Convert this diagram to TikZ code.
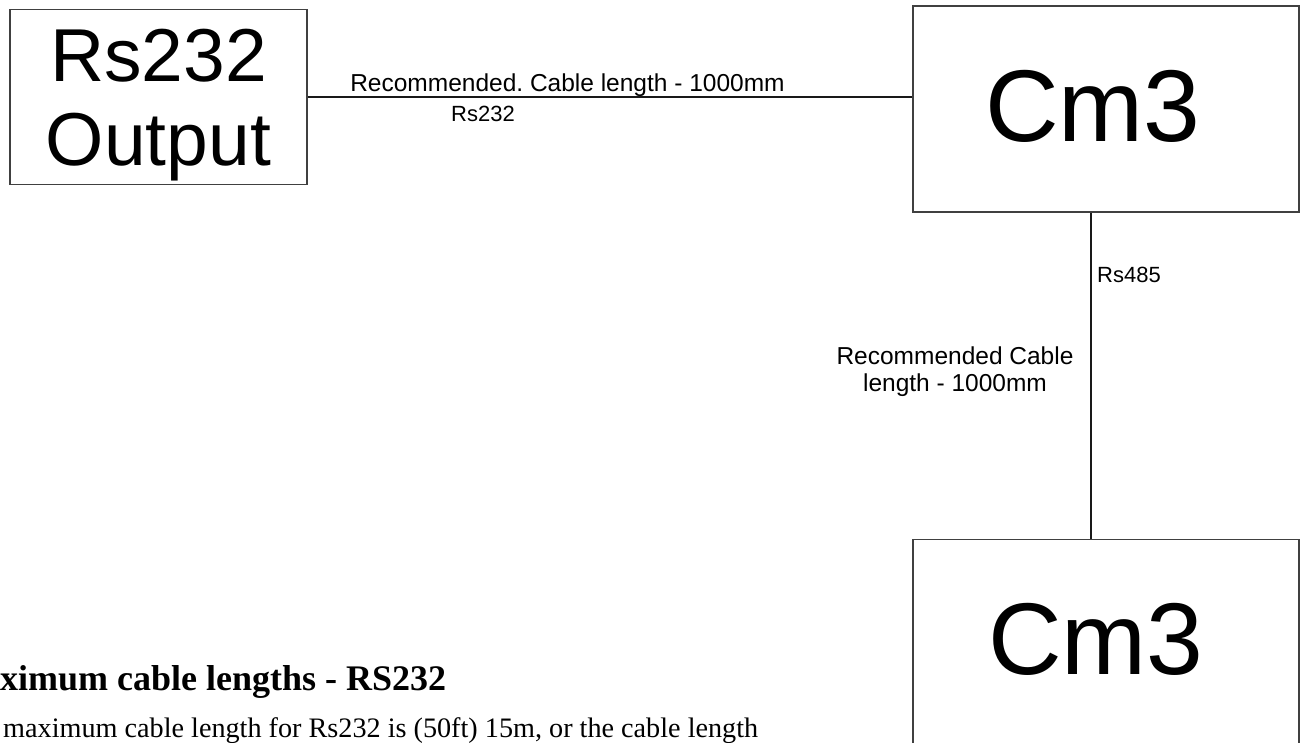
\documentclass[tikz,border=0pt]{standalone}
\usepackage{fontspec}
\setmainfont{Liberation Sans}
\newfontfamily\notefont{Liberation Serif}
\usetikzlibrary{positioning}
\frenchspacing

\begin{document}
\begin{tikzpicture}[
		x=1pt, y=-1pt,
		unitbox/.style={
			rectangle,
			draw=black!75,
			line width=1.2pt,
			inner sep=0pt,
			minimum width=386pt,
			minimum height=206pt
		},
		outbox/.style={
			rectangle,
			draw=black!75,
			line width=1.2pt,
			inner sep=0pt,
			minimum width=297pt,
			minimum height=175pt,
			align=center,
			text depth=0pt,
			font=\fontsize{75}{84}\selectfont
		},
		bigname/.style={
			inner sep=0pt,
			yshift=2.5pt,
			font=\fontsize{102}{110}\selectfont
		},
		cable/.style={
			draw=black!90,
			line width=1.2pt
		},
		wirelabel/.style={
			inner sep=0pt,
			align=center,
			font=\fontsize{24.5}{27}\selectfont
		},
		taglabel/.style={
			inner sep=0pt,
			font=\fontsize{22}{26}\selectfont
		},
		notehead/.style={
			inner sep=0pt,
			anchor=base west,
			font=\notefont\bfseries\fontsize{36}{40}\selectfont
		},
		notebody/.style={
			inner sep=0pt,
			anchor=base west,
			font=\notefont\fontsize{28.2}{32}\selectfont
		}
		]
		
		\useasboundingbox (0,0) rectangle (1303,742);
		\clip (0,0) rectangle (1303,742);
		
		\node[outbox] (rsout) at (158.5,97) {Rs232\\Output};
		
		\node[unitbox, label={[bigname, xshift=-13pt]center:Cm3}] (cmA) at (1106,109) {};
		
		\node[unitbox, below=326pt of cmA, label={[bigname, xshift=-10pt]center:Cm3}] (cmB) {};
		
		\draw[cable] (rsout.east) -- (rsout.east -| cmA.west);
		\draw[cable] ([xshift=-15pt]cmA.south) -- ([xshift=-15pt]cmB.north);
		
		\node[wirelabel, anchor=base] (rec232) at (567.5,91) {Recommended. Cable length - 1000mm};
		\node[taglabel, anchor=base] (tag232) at (483,121) {Rs232};
		\node[taglabel, anchor=base west] (tag485) at (1097,282) {Rs485};
		\node[wirelabel] (rec485) at (955,372) {Recommended Cable\\length - 1000mm};
		
		\node[notehead] (maxhead) at (-52,690) {Maximum cable lengths - RS232};
		\node[notebody] (maxbody) at (3,737) {maximum cable length for Rs232 is (50ft) 15m, or the cable length};
		
	\end{tikzpicture}
\end{document}
